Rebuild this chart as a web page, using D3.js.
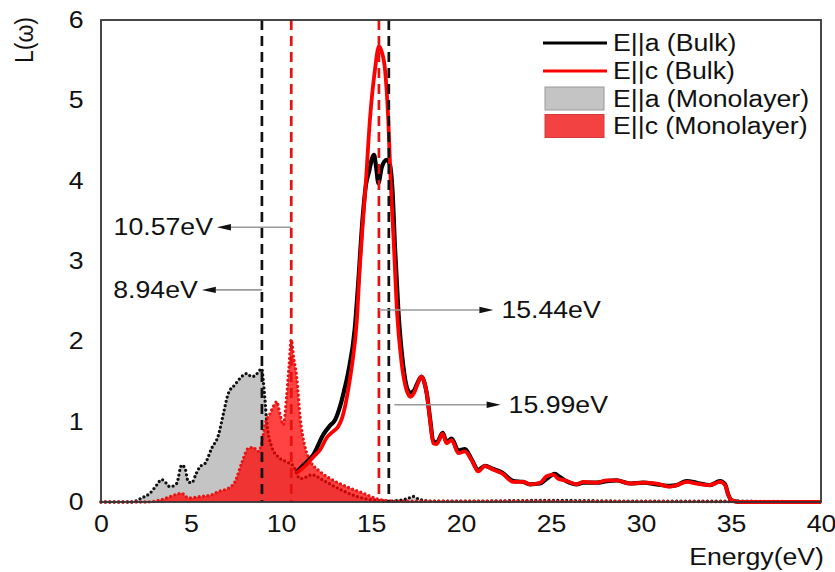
<!DOCTYPE html>
<html>
<head>
<meta charset="utf-8">
<script src="https://cdn.jsdelivr.net/npm/d3@7"></script>
<style>
  html, body { margin: 0; padding: 0; background: #fff; }
  svg { display: block; }
  text { font-family: "Liberation Sans", Arial, sans-serif; fill: #111; }
</style>
</head>
<body>
<svg id="chart" width="835" height="572"></svg>
<script>
// Loss function L(ω) versus photon energy, bulk and monolayer, two polarisations.

// Bulk E||a : [energy (eV), L]
const bulkA = [
  [10.87,0.37],[11.3,0.47],[11.8,0.59],[12.35,0.84],[12.72,0.95],[13.0,1.02],[13.28,1.19],
  [13.5,1.38],[13.74,1.62],[14.1,2.16],[14.3,2.76],[14.54,3.55],[14.72,3.95],[14.9,4.12],
  [15.05,4.27],[15.17,4.32],[15.3,4.14],[15.41,3.97],[15.6,4.17],[15.87,4.26],[16.05,4.2],
  [16.2,3.85],[16.33,3.18],[16.52,2.38],[16.8,1.68],[17.0,1.42],[17.17,1.36],[17.4,1.39],
  [17.54,1.46],[17.8,1.56],[17.95,1.5],[18.1,1.35],[18.28,1.04],[18.46,0.76],[18.65,0.74],
  [18.98,0.86],[19.2,0.75],[19.48,0.79],[19.85,0.64],[20.22,0.66],[20.59,0.53],[20.96,0.4],
  [21.33,0.45],[21.8,0.41],[22.26,0.37],[22.91,0.26],[23.46,0.25],[23.83,0.22],[24.39,0.23],
  [24.76,0.29],[25.2,0.35],[25.5,0.31],[25.85,0.26],[26.43,0.22],[26.8,0.24],[27.54,0.24],
  [28.1,0.26],[28.65,0.27],[29.4,0.23],[30.13,0.24],[30.87,0.22],[31.6,0.2],[31.98,0.21],
  [32.54,0.26],[33.09,0.24],[33.83,0.21],[34.39,0.26],[34.67,0.22],[34.85,0.09],[35.04,0.02],
  [35.5,0],[40,0]
];

// Bulk E||c : [energy (eV), L]
const bulkC = [
  [10.87,0.36],[11.3,0.44],[11.8,0.56],[12.2,0.66],[12.54,0.8],[12.9,0.88],[13.18,0.94],
  [13.4,1.05],[13.56,1.19],[13.75,1.42],[13.93,1.68],[14.2,2.22],[14.39,2.97],[14.57,3.55],
  [14.72,4.0],[14.94,4.76],[15.22,5.38],[15.44,5.67],[15.6,5.6],[15.78,5.38],[15.96,4.76],
  [16.1,3.95],[16.26,3.25],[16.45,2.35],[16.7,1.73],[16.98,1.39],[17.2,1.31],[17.4,1.36],
  [17.54,1.44],[17.8,1.56],[17.95,1.5],[18.1,1.35],[18.28,1.02],[18.46,0.73],[18.65,0.72],
  [18.98,0.85],[19.2,0.73],[19.48,0.77],[19.85,0.61],[20.22,0.63],[20.59,0.52],[20.96,0.38],
  [21.33,0.45],[21.8,0.4],[22.26,0.36],[22.91,0.25],[23.46,0.25],[23.83,0.22],[24.39,0.24],
  [24.76,0.32],[25.13,0.34],[25.4,0.29],[25.78,0.27],[26.43,0.22],[26.8,0.25],[27.54,0.24],
  [28.1,0.27],[28.65,0.27],[29.4,0.23],[30.13,0.24],[30.87,0.23],[31.6,0.19],[31.98,0.21],
  [32.54,0.25],[33.09,0.23],[33.83,0.21],[34.39,0.25],[34.67,0.21],[34.85,0.09],[35.04,0.02],
  [35.5,0],[40,0]
];

// Monolayer E||a : [energy (eV), L]
const monoA = [
  [0,0],[1.7,0],[2.26,0.05],[2.72,0.11],[3.09,0.21],[3.37,0.28],[3.6,0.24],[3.83,0.19],
  [4.2,0.23],[4.48,0.46],[4.67,0.42],[4.85,0.25],[5.04,0.24],[5.3,0.36],[5.5,0.44],[5.78,0.48],
  [6.15,0.67],[6.52,0.83],[6.8,1.1],[7.07,1.35],[7.44,1.46],[7.81,1.56],[8.09,1.6],[8.37,1.56],
  [8.6,1.58],[8.74,1.62],[8.93,1.66],[9.02,1.5],[9.11,1.27],[9.2,1.02],[9.48,0.69],[9.85,0.56],
  [10.31,0.5],[10.68,0.45],[11.06,0.29],[11.4,0.31],[11.7,0.34],[12.35,0.27],[13.18,0.17],
  [14.2,0.07],[15.3,0.02],[16.0,0.01],[17.0,0.04],[17.35,0.07],[17.7,0.03],[18.5,0.01],
  [20,0.01],[25,0.02],[30,0.01],[35,0.01],[40,0]
];

// Monolayer E||c : [energy (eV), L]
const monoC = [
  [0,0],[2.44,0],[3.37,0.03],[4.11,0.09],[4.48,0.11],[4.85,0.05],[5.59,0.07],[6.15,0.09],
  [6.52,0.13],[7.07,0.17],[7.44,0.25],[7.81,0.48],[8.19,0.67],[8.46,0.68],[8.74,0.63],
  [8.93,0.73],[9.11,0.96],[9.39,1.1],[9.6,1.2],[9.76,1.25],[9.94,1.1],[10.13,0.96],[10.31,1.31],
  [10.45,1.7],[10.57,2.02],[10.7,1.8],[10.87,1.56],[11.06,1.06],[11.33,0.69],[11.61,0.52],
  [12.17,0.38],[12.9,0.27],[13.65,0.19],[14.57,0.11],[15.5,0.03],[16.5,0.01],[20,0.01],[40,0]
];

const xTicks = [0, 5, 10, 15, 20, 25, 30, 35, 40];
const yTicks = [0, 1, 2, 3, 4, 5, 6];

// Marked peak energies (eV) and their colours
const markEnergies = [8.94, 10.57, 15.44, 15.99];
const markColors   = ["#111", "#e81010", "#e81010", "#111"];
const markLabels   = ["8.94eV", "10.57eV", "15.44eV", "15.99eV"];

const legendLabels = ["E||a (Bulk)", "E||c (Bulk)", "E||a (Monolayer)", "E||c (Monolayer)"];

// ---- layout ----
const W = 835, H = 572;
const plot = { left: 101, top: 20, right: 821, bottom: 502 };
const STRETCH = 1.16;          // horizontal widening of all lettering
const FONT = 23;

const svg = d3.select("#chart");
svg.append("rect").attr("width", W).attr("height", H).attr("fill", "#fff");

const x = d3.scaleLinear().domain([0, 40]).range([plot.left, plot.right]);
const y = d3.scaleLinear().domain([0, 6]).range([plot.bottom, plot.top]);

function label(sel, px, py, txt, anchor, rotate) {
  return sel.append("text")
    .attr("transform", `translate(${px},${py}) scale(${STRETCH},1)` + (rotate ? ` rotate(${rotate})` : ""))
    .attr("text-anchor", anchor || "start")
    .attr("font-size", FONT)
    .text(txt);
}

const area = d3.area().x(d => x(d[0])).y0(y(0)).y1(d => y(d[1])).curve(d3.curveMonotoneX);
const line = d3.line().x(d => x(d[0])).y(d => y(d[1])).curve(d3.curveMonotoneX);

const g = svg.append("g");

// Monolayer E||a : grey fill with black dotted outline
g.append("path").datum(monoA).attr("d", area).attr("fill", "#c4c4c4");
g.append("path").datum(monoA).attr("d", line).attr("fill", "none")
  .attr("stroke", "#111").attr("stroke-width", 3.3)
  .attr("stroke-linecap", "round").attr("stroke-dasharray", "0,4.4");

// Monolayer E||c : translucent red fill with red dotted outline
g.append("path").datum(monoC).attr("d", area).attr("fill", "#ff0000").attr("fill-opacity", 0.74);
g.append("path").datum(monoC).attr("d", line).attr("fill", "none")
  .attr("stroke", "#e81515").attr("stroke-width", 3.3)
  .attr("stroke-linecap", "round").attr("stroke-dasharray", "0,4.4");

// Bulk curves
g.append("path").datum(bulkA).attr("d", line).attr("fill", "none")
  .attr("stroke", "#000").attr("stroke-width", 4.2).attr("stroke-linejoin", "round");
g.append("path").datum(bulkC).attr("d", line).attr("fill", "none")
  .attr("stroke", "#ff0000").attr("stroke-width", 3.8).attr("stroke-linejoin", "round");

// Vertical dashed markers at the peak energies
g.selectAll("line.mark").data(markEnergies).join("line")
  .attr("class", "mark")
  .attr("x1", d => x(d)).attr("x2", d => x(d))
  .attr("y1", y(6)).attr("y2", y(0))
  .attr("stroke", (d, i) => markColors[i])
  .attr("stroke-width", 2.7)
  .attr("stroke-dasharray", "10,6");

// Arrowed callouts: start at the marker, point away to the label
const callouts = [
  { i: 0, yVal: 2.64, tip: 5.6,  dir: -1 },
  { i: 1, yVal: 3.42, tip: 6.44, dir: -1 },
  { i: 2, yVal: 2.39, tip: 21.8, dir: 1 },
  { i: 3, yVal: 1.21, tip: 22.2, dir: 1, start: 16.3 }
];
callouts.forEach(c => {
  const e = markEnergies[c.i];
  const yy = y(c.yVal);
  const x0 = x(c.start !== undefined ? c.start : e);
  const xt = x(c.tip);
  const headLen = 14, headHalf = 3.2;
  g.append("line")
    .attr("x1", x0).attr("x2", xt - c.dir * headLen)
    .attr("y1", yy).attr("y2", yy)
    .attr("stroke", "#9a9a9a").attr("stroke-width", 1.6);
  g.append("path")
    .attr("d", `M${xt},${yy} L${xt - c.dir * headLen},${yy - headHalf} L${xt - c.dir * headLen},${yy + headHalf} Z`)
    .attr("fill", "#111");
  if (c.dir < 0) {
    label(g, xt - 4, yy + 8, markLabels[c.i], "end");
  } else {
    label(g, xt + 8, yy + 8, markLabels[c.i], "start");
  }
});

// Frame
svg.append("rect")
  .attr("x", plot.left).attr("y", plot.top)
  .attr("width", plot.right - plot.left).attr("height", plot.bottom - plot.top)
  .attr("fill", "none").attr("stroke", "#333").attr("stroke-width", 1.8);

// Axes (tick labels only)
const xAxis = svg.append("g").attr("transform", `translate(0,${plot.bottom})`)
  .call(d3.axisBottom(x).tickValues(xTicks).tickSize(0).tickPadding(14).tickFormat(d3.format("d")));
const yAxis = svg.append("g").attr("transform", `translate(${plot.left},0)`)
  .call(d3.axisLeft(y).tickValues(yTicks).tickSize(0).tickPadding(15).tickFormat(d3.format("d")));
[xAxis, yAxis].forEach(a => {
  a.select(".domain").remove();
  a.selectAll("text")
    .attr("font-family", "Liberation Sans, Arial, sans-serif")
    .attr("font-size", FONT).attr("fill", "#111");
});
xAxis.selectAll(".tick text").attr("transform", `scale(${STRETCH},1)`);
yAxis.selectAll(".tick text").attr("transform", `scale(${STRETCH},1)`);

// Axis titles
label(svg, 824, 565, "Energy(eV)", "end");
label(svg, 33, 17, "L(ω)", "end", -90);

// Legend
const leg = svg.append("g");
const legRowY = [43, 71, 98.5, 126];
legendLabels.forEach((t, i) => {
  const ry = legRowY[i];
  if (i < 2) {
    leg.append("line").attr("x1", 543).attr("x2", 607).attr("y1", ry).attr("y2", ry)
      .attr("stroke", i === 0 ? "#000" : "#ff0000").attr("stroke-width", 3.2);
  } else {
    leg.append("rect").attr("x", 545).attr("y", ry - 11.5).attr("width", 59).attr("height", 23)
      .attr("fill", i === 2 ? "#c4c4c4" : "#f24242")
      .attr("stroke", i === 2 ? "#999" : "#d23a3a").attr("stroke-width", 1);
  }
  label(leg, 613, ry + 8, t, "start");
});
</script>
</body>
</html>
